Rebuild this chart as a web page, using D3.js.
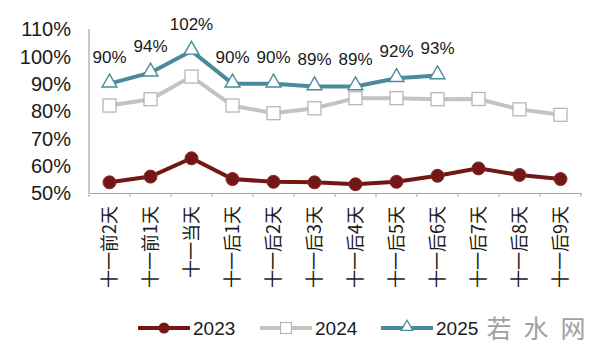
<!DOCTYPE html>
<html>
<head>
<meta charset="utf-8">
<script src="https://cdn.jsdelivr.net/npm/d3@7"></script>
<style>
  body { margin: 0; background: #fff; }
  text { font-family: "Liberation Sans", Arial, "Noto Sans CJK SC", sans-serif; fill: #1a1a1a; }
</style>
</head>
<body>
<div id="chart"></div>
<script>
var categories = ["十一前2天", "十一前1天", "十一当天", "十一后1天", "十一后2天", "十一后3天",
                  "十一后4天", "十一后5天", "十一后6天", "十一后7天", "十一后8天", "十一后9天"];
var values2023 = [53.9, 56, 62.7, 55.1, 54.1, 53.9, 53.2, 54.1, 56.3, 59, 56.6, 55.1];
var values2024 = [82, 84.3, 92.6, 82, 79.2, 81, 84.7, 84.7, 84.3, 84.4, 80.6, 78.6];
var values2025 = [90, 94, 102, 90, 90, 89, 89, 92, 93];
var yTicks = [50, 60, 70, 80, 90, 100, 110];

var width = 600, height = 351;
var margin = { top: 29, right: 19, bottom: 158, left: 89 };

var svg = d3.select("#chart").append("svg")
    .attr("width", width)
    .attr("height", height);

var x = d3.scaleBand()
    .domain(categories)
    .range([margin.left, width - margin.right]);

var y = d3.scaleLinear()
    .domain([50, 110])
    .range([height - margin.bottom, margin.top]);

var cx = function (d, i) { return x(categories[i]) + x.bandwidth() / 2; };

// y axis: line plus labels, no ticks
svg.append("line")
    .attr("x1", margin.left).attr("x2", margin.left)
    .attr("y1", y(110)).attr("y2", y(50))
    .attr("stroke", "#a6a6a6").attr("stroke-width", 1.2);

svg.selectAll("text.ytick")
    .data(yTicks)
    .join("text")
    .attr("class", "ytick")
    .attr("x", margin.left - 18)
    .attr("y", d => y(d))
    .attr("dy", "0.36em")
    .attr("text-anchor", "end")
    .style("font-size", "20px")
    .text(d => d + "%");

// x axis
var xAxis = svg.append("g")
    .attr("transform", `translate(0,${y(50)})`)
    .call(d3.axisBottom(x).tickSize(0).tickFormat(""));
xAxis.select(".domain").attr("stroke", "#a6a6a6").attr("stroke-width", 1.2);

var edges = categories.map(c => x(c)).concat([x.range()[1]]);
svg.selectAll("line.xtick")
    .data(edges)
    .join("line")
    .attr("class", "xtick")
    .attr("x1", d => d).attr("x2", d => d)
    .attr("y1", y(50)).attr("y2", y(50) + 4)
    .attr("stroke", "#a6a6a6");

svg.selectAll("text.xlab")
    .data(categories)
    .join("text")
    .attr("class", "xlab")
    .attr("transform", d => `translate(${x(d) + x.bandwidth() / 2 + 6},${y(50) + 13})rotate(-90)`)
    .attr("text-anchor", "end")
    .style("font-size", "18px")
    .style("font-family", "'Noto Sans CJK SC', sans-serif")
    .text(d => d);

var line = d3.line().x(cx).y(d => y(d));

var c2023 = "#731616", c2024 = "#c4c4bc", c2025 = "#4a8b9b";

// 2024
svg.append("path").datum(values2024)
    .attr("d", line).attr("fill", "none")
    .attr("stroke", c2024).attr("stroke-width", 4);
svg.selectAll("rect.m2024")
    .data(values2024)
    .join("rect")
    .attr("class", "m2024")
    .attr("x", (d, i) => cx(d, i) - 6.5)
    .attr("y", d => y(d) - 6.5)
    .attr("width", 13).attr("height", 13)
    .attr("fill", "#fff").attr("stroke", "#b8b8b0").attr("stroke-width", 1.3);

// 2025
svg.append("path").datum(values2025)
    .attr("d", line).attr("fill", "none")
    .attr("stroke", c2025).attr("stroke-width", 4);
var tri = d3.symbol().type(d3.symbolTriangle).size(95);
svg.selectAll("path.m2025")
    .data(values2025)
    .join("path")
    .attr("class", "m2025")
    .attr("d", tri)
    .attr("transform", (d, i) => `translate(${cx(d, i)},${y(d) - 1})`)
    .attr("fill", "#fff").attr("stroke", c2025).attr("stroke-width", 1.4);

svg.selectAll("text.lab2025")
    .data(values2025)
    .join("text")
    .attr("class", "lab2025")
    .attr("x", (d, i) => cx(d, i))
    .attr("y", d => y(d) - 21)
    .attr("text-anchor", "middle")
    .style("font-size", "17px")
    .text(d => d + "%");

// 2023
svg.append("path").datum(values2023)
    .attr("d", line).attr("fill", "none")
    .attr("stroke", c2023).attr("stroke-width", 4);
svg.selectAll("circle.m2023")
    .data(values2023)
    .join("circle")
    .attr("class", "m2023")
    .attr("cx", cx)
    .attr("cy", d => y(d))
    .attr("r", 6.5)
    .attr("fill", c2023).attr("stroke", "#8a2a2a").attr("stroke-width", 1);

// legend
var legend = [
  { name: "2023", color: c2023, x: 138 },
  { name: "2024", color: c2024, x: 260 },
  { name: "2025", color: c2025, x: 381 }
];
var ly = 328;
legend.forEach(function (l) {
  svg.append("line")
    .attr("x1", l.x).attr("x2", l.x + 52)
    .attr("y1", ly).attr("y2", ly)
    .attr("stroke", l.color).attr("stroke-width", 4);
  var mx = l.x + 26;
  if (l.name === "2023") {
    svg.append("circle").attr("cx", mx).attr("cy", ly).attr("r", 5.5).attr("fill", c2023);
  } else if (l.name === "2024") {
    svg.append("rect").attr("x", mx - 5.5).attr("y", ly - 5.5).attr("width", 11).attr("height", 11)
      .attr("fill", "#fff").attr("stroke", "#b8b8b0").attr("stroke-width", 1.2);
  } else {
    svg.append("path").attr("d", d3.symbol().type(d3.symbolTriangle).size(60))
      .attr("transform", `translate(${mx},${ly - 1})`)
      .attr("fill", "#fff").attr("stroke", c2025).attr("stroke-width", 1.3);
  }
  svg.append("text")
    .attr("x", l.x + 55).attr("y", ly)
    .attr("dy", "0.36em")
    .style("font-size", "19px")
    .text(l.name);
});

// watermark
svg.append("text")
    .attr("x", 542).attr("y", ly)
    .attr("dy", "0.38em")
    .attr("text-anchor", "middle")
    .style("font-size", "25px")
    .style("font-family", "'Noto Sans CJK SC', sans-serif")
    .style("fill", "#a0a0a0")
    .style("letter-spacing", "12px")
    .text("若水网");
</script>
</body>
</html>
